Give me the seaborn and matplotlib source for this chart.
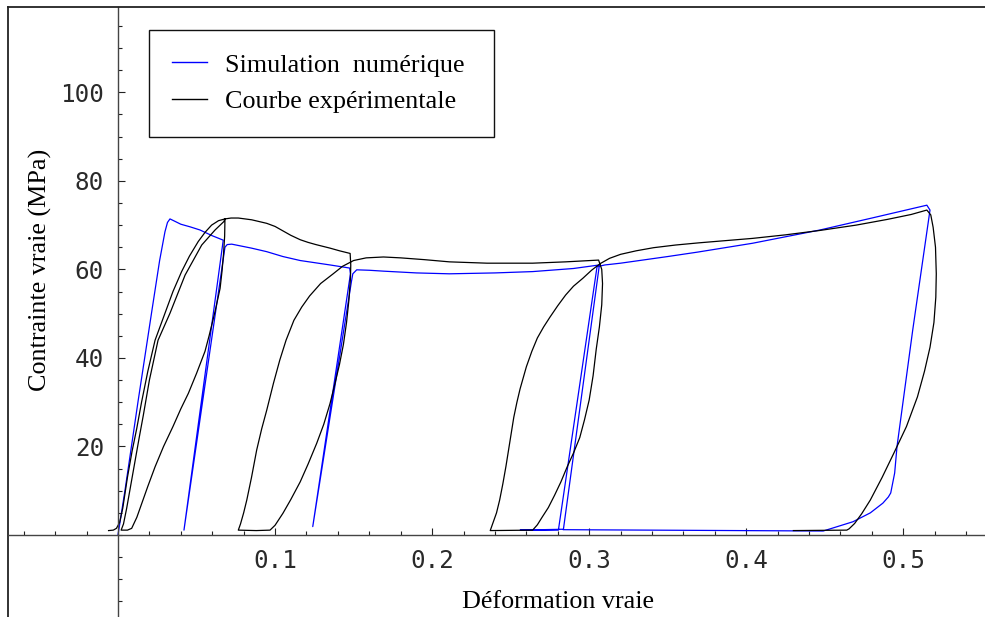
import numpy as np
import pandas as pd
import matplotlib
matplotlib.use("Agg")
import matplotlib.pyplot as plt
from matplotlib.ticker import MultipleLocator, FixedLocator
from matplotlib.lines import Line2D
import seaborn as sns

# ---------------- data ----------------
sim_x = [0.000, 0.0045, 0.0129, 0.0215, 0.0265, 0.0299, 0.0315, 0.0331, 0.036, 0.040, 0.046,
         0.0522, 0.060, 0.067,
         0.042, 0.0681, 0.0695, 0.0724, 0.078, 0.085, 0.0947, 0.105, 0.116, 0.135, 0.1475,
         0.148, 0.124, 0.1486, 0.1495, 0.152, 0.160, 0.169, 0.190, 0.211, 0.240, 0.264, 0.290,
         0.3065,
         0.2836, 0.256, 0.2804, 0.305, 0.310, 0.320, 0.350, 0.369, 0.404, 0.447, 0.480, 0.515,
         0.517, 0.506, 0.496, 0.4945, 0.492, 0.4905, 0.487, 0.479, 0.468, 0.449, 0.2836]
sim_y = [0.0, 10.2, 30.5, 50.5, 62.0, 68.5, 70.6, 71.4, 70.9, 70.2, 69.6,
         68.9, 67.6, 66.6,
         1.1, 65.0, 65.6, 65.7, 65.3, 64.8, 64.0, 62.9, 62.0, 61.0, 60.3,
         59.0, 1.9, 57.2, 59.0, 59.9, 59.8, 59.6, 59.2, 59.0, 59.2, 59.5, 60.2,
         61.0,
         1.3, 1.1, 1.1, 60.6, 61.0, 61.4, 62.9, 63.9, 65.9, 68.9, 71.6, 74.5,
         73.4, 46.3, 20.0, 14.0, 9.5, 8.6, 7.2, 5.0, 3.0, 0.9, 1.2]

exp_x = [
    # first loading
    -0.006, -0.003, -0.001, 0.001, 0.003, 0.006, 0.009, 0.0119, 0.015, 0.019, 0.0236,
    0.0299, 0.035, 0.0405, 0.0455, 0.0511, 0.0555, 0.0596, 0.064, 0.0681,
    # first unloading
    0.0679, 0.0672, 0.0662, 0.065, 0.0618, 0.058, 0.0554, 0.050, 0.0448, 0.040, 0.035,
    0.029, 0.0236, 0.019, 0.0155, 0.012, 0.0087, 0.006, 0.002,
    # first reloading
    0.0035, 0.0055, 0.008, 0.011, 0.0135, 0.0161, 0.020, 0.0255, 0.0331, 0.0427, 0.0533,
    0.0618, 0.0674, 0.0681,
    # softening
    0.072, 0.0766, 0.0851, 0.0947, 0.100, 0.105, 0.110, 0.116, 0.121, 0.126, 0.135, 0.141,
    0.1478,
    # second unloading
    0.1482, 0.148, 0.147, 0.1455, 0.1435, 0.141, 0.138, 0.135, 0.131, 0.1265, 0.121,
    0.116, 0.110, 0.105, 0.100, 0.0968, 0.088, 0.0766,
    # second reloading
    0.078, 0.080, 0.082, 0.085, 0.0883, 0.0915, 0.0947, 0.099, 0.103, 0.107, 0.112, 0.117,
    0.122, 0.129, 0.137, 0.143, 0.150, 0.158, 0.169, 0.180, 0.195, 0.211, 0.235, 0.264,
    0.285, 0.306,
    # third unloading
    0.308, 0.3085, 0.308, 0.3065, 0.3045, 0.3025, 0.300, 0.297, 0.294, 0.290, 0.286,
    0.282, 0.278, 0.274, 0.270, 0.267, 0.264, 0.237,
    # third reloading
    0.2375, 0.239, 0.241, 0.243, 0.245, 0.247, 0.2495, 0.252, 0.254, 0.256, 0.260, 0.2635,
    0.267, 0.271, 0.275, 0.280, 0.285, 0.290, 0.296, 0.3015, 0.307, 0.313, 0.320, 0.330,
    0.341, 0.355, 0.370, 0.404, 0.425, 0.447, 0.470, 0.490, 0.505, 0.515,
    # final unloading
    0.5175, 0.519, 0.5205, 0.521, 0.5207, 0.5195, 0.517, 0.5135, 0.509, 0.502, 0.494,
    0.4865, 0.479, 0.4735, 0.469, 0.4655, 0.464, 0.430]
exp_y = [
    1.0, 1.1, 1.5, 2.8, 6.0, 13.0, 19.0, 24.0, 30.0, 37.0, 44.0,
    50.1, 55.0, 59.5, 63.0, 66.3, 68.4, 70.0, 71.0, 71.4,
    67.5, 63.5, 59.5, 55.7, 50.5, 45.0, 41.5, 36.5, 32.0, 28.5, 24.5,
    20.0, 15.4, 11.0, 7.5, 4.0, 1.5, 1.1, 1.1,
    2.5, 6.0, 11.0, 17.0, 22.0, 27.0, 35.0, 44.0, 50.1, 58.7, 65.5,
    68.9, 70.8, 71.4,
    71.6, 71.6, 71.2, 70.4, 69.7, 68.7, 67.7, 66.7, 66.1, 65.6, 64.8, 64.2,
    63.6,
    61.0, 58.0, 53.0, 48.0, 43.0, 38.5, 34.0, 29.7, 25.0, 20.7, 16.0,
    12.0, 8.0, 4.9, 2.2, 1.1, 1.0, 1.1,
    2.5, 5.0, 7.9, 13.0, 19.2, 24.0, 28.2, 34.3, 39.5, 44.0, 48.5, 51.5,
    54.0, 56.8, 59.0, 60.7, 62.0, 62.6, 62.8, 62.6, 62.2, 61.7, 61.4, 61.4,
    61.7, 62.1,
    60.0, 56.8, 52.0, 47.0, 42.0, 36.0, 30.5, 26.0, 22.0, 18.5, 15.4,
    12.0, 9.0, 6.2, 4.0, 2.3, 1.1, 1.0,
    1.5, 3.0, 5.0, 7.9, 11.5, 15.5, 21.0, 26.6, 30.0, 33.0, 38.0, 41.5,
    44.5, 47.0, 49.2, 51.8, 54.2, 56.2, 58.0, 59.8, 61.3, 62.5, 63.4, 64.2,
    64.9, 65.5, 66.0, 67.0, 67.8, 68.8, 70.0, 71.3, 72.4, 73.4,
    72.3, 69.5, 65.0, 59.0, 53.7, 48.0, 42.4, 37.0, 31.2, 24.5, 18.5,
    13.0, 7.9, 4.8, 2.6, 1.4, 1.1, 1.0]

series_names = ["Simulation  numérique", "Courbe expérimentale"]
series_colors = ["#0000ff", "#000000"]

x_major = [0.1, 0.2, 0.3, 0.4, 0.5]
y_major = [20, 40, 60, 80, 100]
x_label = "Déformation vraie"
y_label = "Contrainte vraie (MPa)"

df = pd.concat([
    pd.DataFrame({"x": sim_x, "y": sim_y, "serie": series_names[0]}),
    pd.DataFrame({"x": exp_x, "y": exp_y, "serie": series_names[1]}),
], ignore_index=True)

# ---------------- figure ----------------
W, H = 985, 617
fig = plt.figure(figsize=(W / 100, H / 100), dpi=100)
ax = fig.add_axes([8 / W, 0, (W - 8) / W, (H - 7) / H])

sns.lineplot(data=df, x="x", y="y", hue="serie", hue_order=series_names,
             palette=dict(zip(series_names, series_colors)), sort=False,
             estimator=None, linewidth=0.9, legend=False, ax=ax)

px_per_x = 1570.6
px_per_y = 4.427
ax.set_xlim(-110 / px_per_x, (W - 118) / px_per_x)
ax.set_ylim(-(H - 535) / px_per_y, (535 - 7) / px_per_y)

axis_col = "#444444"
ax.spines["left"].set_position(("data", 0))
ax.spines["bottom"].set_position(("data", 0))
ax.spines["right"].set_visible(False)
ax.spines["top"].set_color("#222222")
ax.spines["top"].set_linewidth(1.3)
for s in ("left", "bottom"):
    ax.spines[s].set_color(axis_col)
    ax.spines[s].set_linewidth(1.0)
# outer left border line
ax.plot([0, 0], [0, 1], transform=ax.transAxes, color="#222222", lw=1.3, clip_on=False)

ax.xaxis.set_major_locator(FixedLocator(x_major))
ax.yaxis.set_major_locator(FixedLocator(y_major))
ax.xaxis.set_minor_locator(MultipleLocator(0.02))
ax.yaxis.set_minor_locator(MultipleLocator(5))
ax.set_xticklabels([f"{v:g}" for v in x_major])
ax.set_yticklabels([f"{v:g}" for v in y_major])
ax.tick_params(which="major", direction="in", length=5, width=0.8, color="#222222",
               labelsize=17.5, pad=10)
ax.tick_params(which="minor", direction="in", length=3, width=0.8, color="#222222")
for lab in ax.get_xticklabels() + ax.get_yticklabels():
    lab.set_fontfamily("DejaVu Sans Mono")
    lab.set_color("#2a2a2a")

serif = "Liberation Serif"
fs = 18.8
ax.set_xlabel(x_label, fontfamily=serif, fontsize=fs, va="center")
ax.set_ylabel(y_label, fontfamily=serif, fontsize=fs, va="center")
ax.xaxis.set_label_coords((558 - 8) / (W - 8), (H - 602) / (H - 7))
ax.yaxis.set_label_coords((40 - 8) / (W - 8), (H - 270) / (H - 7))

handles = [Line2D([], [], color=c, lw=1.0) for c in series_colors]
leg = ax.legend(handles, series_names, loc="upper left",
                bbox_to_anchor=((149 - 8) / (W - 8), (H - 137) / (H - 7),
                                (494 - 149) / (W - 8), (137 - 30) / (H - 7)),
                mode="expand", borderaxespad=0, fancybox=False, framealpha=1,
                edgecolor="#111111", prop={"family": serif, "size": fs},
                handlelength=1.35, handletextpad=0.68, borderpad=0.89,
                labelspacing=0.52)
leg.get_frame().set_linewidth(1.0)

fig.savefig("out.png", dpi=100)
